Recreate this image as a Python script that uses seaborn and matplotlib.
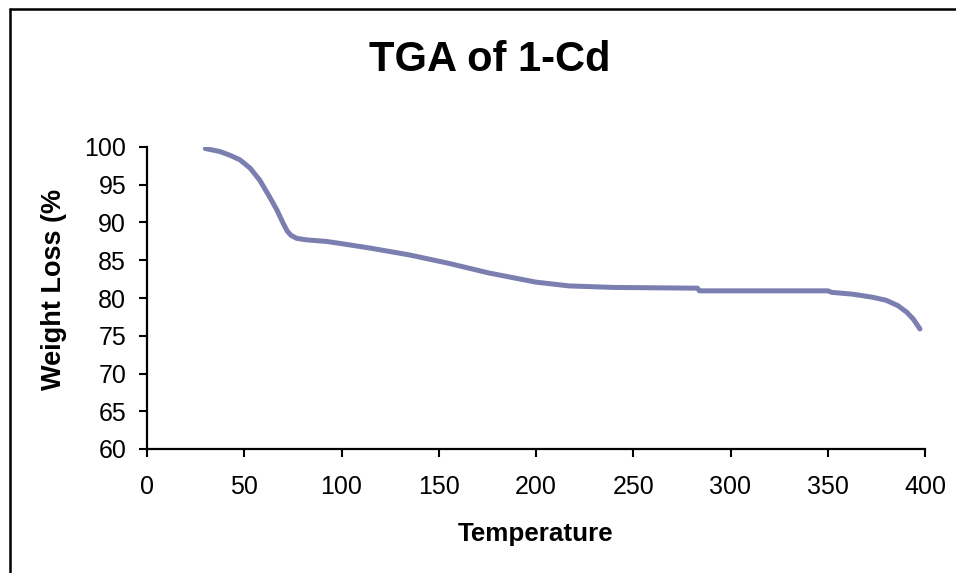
import matplotlib
matplotlib.use("Agg")
import matplotlib.pyplot as plt
from matplotlib.lines import Line2D
import numpy as np
import pandas as pd
import seaborn as sns

# TGA trace of 1-Cd: temperature vs. remaining weight (%)
temperature = [30, 37.5, 42.7, 47.8, 53, 58, 63, 66.7, 70, 72, 74, 77, 82,
               92, 100, 115, 135, 155, 176, 200, 217, 240, 283, 284, 350,
               352, 363, 373, 380, 386, 390.7, 394, 397.4]
weight = [99.8, 99.4, 98.9, 98.3, 97.2, 95.6, 93.4, 91.7, 89.9, 88.9, 88.3,
          87.9, 87.7, 87.5, 87.2, 86.6, 85.7, 84.6, 83.3, 82.1, 81.6, 81.4,
          81.3, 80.95, 80.95, 80.75, 80.5, 80.1, 79.7, 79.0, 78.1, 77.2, 75.9]

x_ticks = [0, 50, 100, 150, 200, 250, 300, 350, 400]
y_ticks = [60, 65, 70, 75, 80, 85, 90, 95, 100]

df = pd.DataFrame({"Temperature": temperature, "Weight": weight})

sns.set_style("ticks")
plt.rcParams["font.family"] = ["Liberation Sans", "DejaVu Sans"]
plt.rcParams["text.color"] = "black"
plt.rcParams["axes.labelcolor"] = "black"

fig = plt.figure(figsize=(9.56, 5.73), dpi=100)
ax = fig.add_axes([147 / 956, 1 - 449 / 573, (925 - 147) / 956, (449 - 147) / 573])

sns.lineplot(data=df, x="Temperature", y="Weight", ax=ax, color="#7B7FB0",
             linewidth=3.6, solid_capstyle="round", solid_joinstyle="round")

ax.set_xlim(0, 400)
ax.set_ylim(60, 100)
ax.set_xticks(x_ticks)
ax.set_yticks(y_ticks)
ax.tick_params(axis="both", direction="out", length=6, width=1.5,
               labelsize=18, colors="black")
ax.tick_params(axis="x", pad=13)
ax.tick_params(axis="y", pad=9)
for side in ("top", "right"):
    ax.spines[side].set_visible(False)
for side in ("left", "bottom"):
    ax.spines[side].set_linewidth(1.6)
    ax.spines[side].set_color("black")

ax.set_xlabel("Temperature", fontsize=18.7, fontweight="bold", labelpad=16,
              color="black")
ax.set_ylabel("Weight Loss (%", fontsize=19.5, fontweight="bold",
              color="black")
ax.yaxis.set_label_coords(-0.103, 0.527)

fig.text(490 / 956, 1 - 60 / 573, "TGA of 1-Cd", fontsize=30,
         fontweight="bold", ha="center", va="center", color="black")

# chart-area frame along the top and left edges
fig.add_artist(Line2D([10 / 956, 1.0], [1 - 9 / 573, 1 - 9 / 573],
                      transform=fig.transFigure, color="black", linewidth=1.8))
fig.add_artist(Line2D([10 / 956, 10 / 956], [0.0, 1 - 9 / 573],
                      transform=fig.transFigure, color="black", linewidth=1.8))

fig.savefig("out.png", dpi=100)
